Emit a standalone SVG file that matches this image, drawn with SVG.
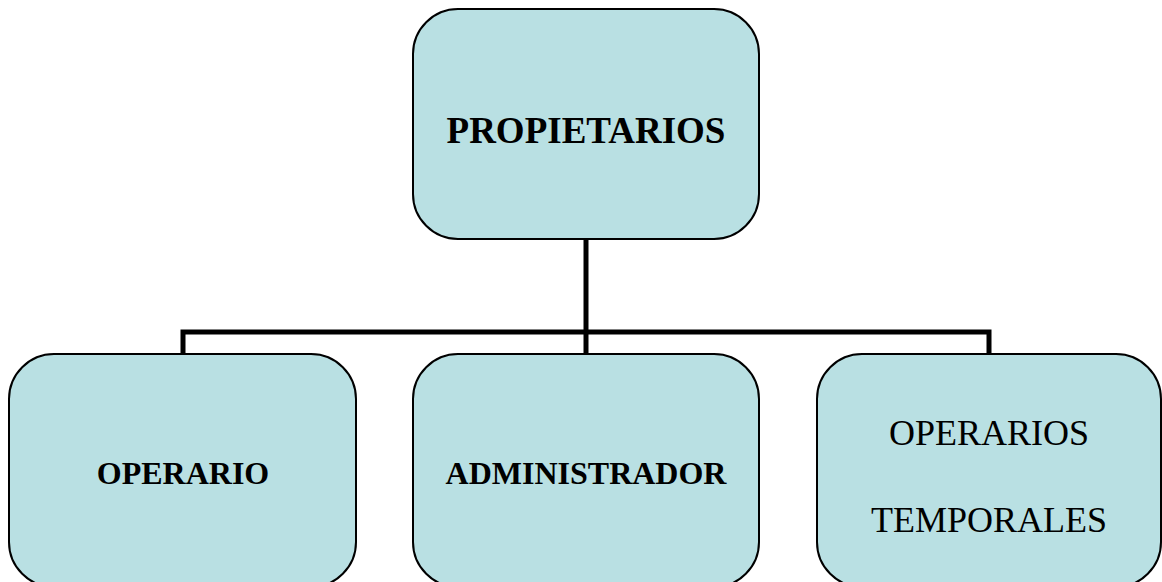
<svg xmlns="http://www.w3.org/2000/svg" width="1162" height="582" viewBox="0 0 1162 582">
<style>
.box{fill:#B9E0E3;stroke:#000;stroke-width:2}
.t{font-family:"Liberation Serif","Times New Roman",serif;fill:#000;text-anchor:middle}
.b{font-weight:bold}
.conn{fill:none;stroke:#000;stroke-width:5}
</style>
<rect width="1162" height="582" fill="#fff"/>
<g id="connectors">
<path class="conn" d="M586,239 V332"/>
<path class="conn" d="M183,354 V332 H989 V354"/>
<path class="conn" d="M586,332 V354"/>
</g>
<g id="propietarios">
<rect class="box" x="413" y="9" width="346" height="230" rx="45"/>
<text class="t b" x="586" y="143" font-size="37">PROPIETARIOS</text>
</g>
<g id="operario">
<rect class="box" x="9" y="354" width="347" height="233" rx="45"/>
<text class="t b" x="183" y="484" font-size="32">OPERARIO</text>
</g>
<g id="administrador">
<rect class="box" x="413" y="354" width="346" height="233" rx="45"/>
<text class="t b" x="586" y="484" font-size="32">ADMINISTRADOR</text>
</g>
<g id="operarios-temporales">
<rect class="box" x="817" y="354" width="344" height="233" rx="45"/>
<text class="t" x="989" y="445" font-size="36">OPERARIOS</text>
<text class="t" x="989" y="532" font-size="36">TEMPORALES</text>
</g>
</svg>
